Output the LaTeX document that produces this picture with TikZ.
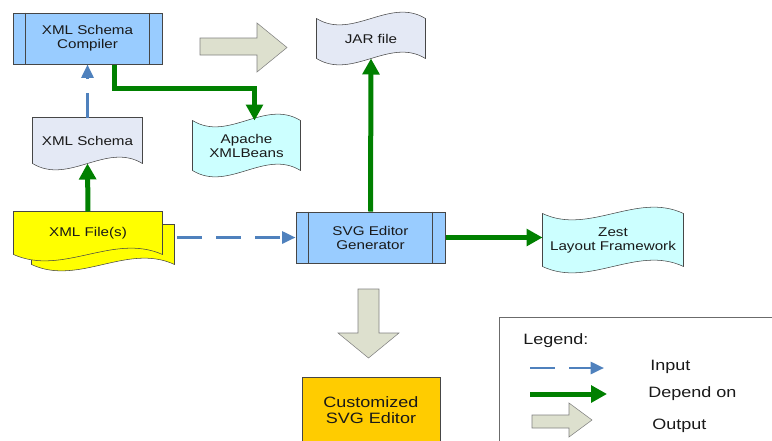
\documentclass[tikz,border=0pt]{standalone}
\usepackage{fontspec}
\setmainfont{Liberation Sans}[FakeStretch=1.2]
\usetikzlibrary{arrows.meta,calc,backgrounds}

\definecolor{procblue}{RGB}{153,204,255}
\definecolor{docgray}{RGB}{228,233,245}
\definecolor{doccyan}{RGB}{204,255,255}
\definecolor{filesyellow}{RGB}{255,255,0}
\definecolor{editororange}{RGB}{255,204,0}
\definecolor{inputblue}{RGB}{79,129,189}
\definecolor{dependgreen}{RGB}{0,128,0}
\definecolor{outputbeige}{RGB}{221,224,206}
\definecolor{edgegray}{RGB}{70,70,70}

\newcommand{\nodefont}{\fontsize{9.5}{10.5}\selectfont}
\newcommand{\legendfont}{\fontsize{11.25}{12}\selectfont}

% document shape: flat top, wavy bottom
\newcommand{\docshape}[2]{%
  \filldraw[draw=edgegray, fill=#2] (#1.north west) -- (#1.north east) -- (#1.south east)
    .. controls ($(#1.south east)!0.33!(#1.south west)+(0,-22)$) and ($(#1.south east)!0.67!(#1.south west)+(0,22)$) .. (#1.south west) -- cycle;}
% tape shape: wavy top and bottom
\newcommand{\tapeshape}[2]{%
  \filldraw[draw=edgegray, fill=#2] (#1.north west)
    .. controls ($(#1.north west)!0.33!(#1.north east)+(0,22)$) and ($(#1.north west)!0.67!(#1.north east)+(0,-22)$) .. (#1.north east)
    -- (#1.south east)
    .. controls ($(#1.south east)!0.33!(#1.south west)+(0,-22)$) and ($(#1.south east)!0.67!(#1.south west)+(0,22)$) .. (#1.south west) -- cycle;}
% side bars of a process box
\newcommand{\procbars}[1]{%
  \draw[edgegray] ($(#1.north west)+(13,0)$) -- ($(#1.south west)+(13,0)$);
  \draw[edgegray] ($(#1.north east)+(-13,0)$) -- ($(#1.south east)+(-13,0)$);}

\tikzset{every picture/.style={line width=0.75pt}}
\tikzset{
  procbox/.style={draw=edgegray, fill=procblue, minimum width=111.75pt, minimum height=38.25pt, inner sep=0pt, align=center, font=\nodefont, text=black!90},
  docnode/.style={inner sep=0pt, align=center, font=\nodefont, text=black!90},
  input/.style={draw=inputblue, line width=2pt, dash pattern=on 18.75pt off 10.5pt, -{Triangle[length=10pt,width=9pt]}},
  depend/.style={draw=dependgreen, line width=3.75pt, -{Triangle[length=12pt,width=12.5pt]}},
  outarrow/.style={draw=gray, fill=outputbeige, line join=miter},
  legendtext/.style={anchor=west, inner sep=0pt, font=\legendfont, text=black!90},
}

\begin{document}
\begin{tikzpicture}[x=0.75pt,y=0.75pt,yscale=-1]
\useasboundingbox (0,0) rectangle (772,440);
\clip (0,0) rectangle (772,440);

% Process boxes
\node[procbox] (compiler) at (87.5,38.5) {XML Schema\\Compiler};
\procbars{compiler}
\node[procbox] (generator) at (370.5,237.5) {SVG Editor\\Generator};
\procbars{generator}

% Documents
\node[docnode, minimum width=81.75pt, minimum height=33.75pt] (schema) at (87.5,140.5) {XML Schema};
\node[docnode, minimum width=81pt, minimum height=29.25pt] (jar) at (371,38.5) {JAR file};
\node[docnode, minimum width=80.25pt, minimum height=36.75pt] (beans) at (246.5,145.5) {Apache\\XMLBeans};
\node[docnode, minimum width=106.5pt, minimum height=29.25pt] (xmlback) at (103,244.5) {};
\node[docnode, minimum width=111pt, minimum height=31.5pt] (xmlfiles) at (88,233) {XML File(s)};
\node[docnode, minimum width=105pt, minimum height=39pt] (zest) at (613,240) {Zest\\Layout Framework};

\begin{pgfonlayer}{background}
\docshape{schema}{docgray}
\tapeshape{jar}{docgray}
\tapeshape{beans}{doccyan}
\docshape{xmlback}{filesyellow}
\docshape{xmlfiles}{filesyellow}
\tapeshape{zest}{doccyan}
\end{pgfonlayer}

% Result
\node[draw=edgegray, fill=editororange, minimum width=103.5pt, minimum height=49.5pt, anchor=north, align=center, font=\legendfont, text=black!90] (editor) at (371,377) {Customized\\SVG Editor};

% Connectors
\draw[input] (schema.north) -- (compiler.south);
\draw[depend] ($(compiler.south)+(27,0)$) |- ($(beans.north)+(8,-32)$) -- ($(beans.north)+(8,0)$);
\draw[depend] (xmlfiles.north) -- (schema.south);
\draw[input, shorten <=2pt] (xmlback.east |- generator.west) -- (generator.west);
\draw[depend] (generator.north) -- (jar.south);
\draw[depend] (generator.east) -- (generator.east -| zest.west);

% Output arrows
\draw[outarrow] (200,38) -- (257,38) -- (257,23) -- (287,47.5) -- (257,72) -- (257,55) -- (200,55) -- cycle;
\draw[outarrow] (358,289) -- (379,289) -- (379,333) -- (399,333) -- (368.5,358) -- (338,333) -- (358,333) -- cycle;

% Legend
\node[draw=edgegray!80, anchor=north west, minimum width=225pt, minimum height=100pt] (legend) at (499,317) {};
\node[legendtext] (legendtitle) at (523,341) {Legend:};
\node[legendtext] (inputtext) at (650,367) {Input};
\node[legendtext] (dependtext) at (648,394) {Depend on};
\node[legendtext] (outputtext) at (652,426) {Output};
\draw[input] (530,368) -- (604,368);
\draw[depend] (530,394) -- (607,394);
\draw[outarrow] (532,415) -- (569,415) -- (569,403) -- (592,420) -- (569,437) -- (569,428) -- (532,428) -- cycle;

\end{tikzpicture}
\end{document}
